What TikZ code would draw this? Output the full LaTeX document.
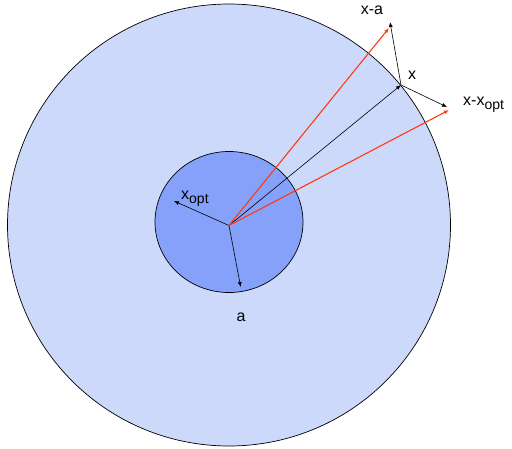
\documentclass[tikz,border=0pt]{standalone}
\usepackage{fontspec}
\setmainfont{Liberation Sans}
\usetikzlibrary{arrows.meta}
\definecolor{outerfill}{HTML}{CCD9FB}
\definecolor{innerfill}{HTML}{86A1F9}
\definecolor{redvec}{HTML}{FF3A12}
\newcommand{\mysub}[1]{\raisebox{-4.5pt}{\fontsize{14}{16}\selectfont #1}}
\tikzset{
  vec/.style={line width=0.6pt,-{Latex[length=5pt,width=4pt]}},
  blackvec/.style={vec,draw=black},
  redv/.style={vec,draw=redvec,line width=1.1pt},
  lbl/.style={font=\fontsize{16}{18}\selectfont,inner sep=0pt}
}
\begin{document}
\begin{tikzpicture}[x=1pt,y=-1pt]
\useasboundingbox (0,0) rectangle (512,448);
\draw[fill=outerfill,line width=0.7pt] (229,225) ellipse [x radius=221.5,y radius=221];
\draw[fill=innerfill,line width=0.7pt] (229,222) ellipse [x radius=74,y radius=70.5];
\coordinate (O) at (229,225.5);
\coordinate (xopt) at (174,201);
\coordinate (a) at (240.7,287);
\coordinate (x) at (401,85);
\coordinate (xa) at (389,28);
\coordinate (xxo) at (449,110);
\coordinate (xaB) at (390,22);
\coordinate (xxoB) at (447,107);
\draw[blackvec] (O) -- (xopt);
\draw[blackvec] (O) -- (a);
\draw[blackvec] (O) -- (x);
\draw[blackvec] (x) -- (xaB);
\draw[blackvec] (x) -- (xxoB);
\draw[redv] (O) -- (xa);
\draw[redv] (O) -- (xxo);
\node[lbl,anchor=base west] (Lxopt) at (181,199) {x\mysub{opt}};
\node[lbl,anchor=base] (La) at (241,321) {a};
\node[lbl,anchor=base] (Lx) at (412,79) {x};
\node[lbl,anchor=base] (Lxa) at (372,14) {x-a};
\node[lbl,anchor=base west] (Lxxo) at (463,105) {x-x\mysub{opt}};
\end{tikzpicture}
\end{document}
